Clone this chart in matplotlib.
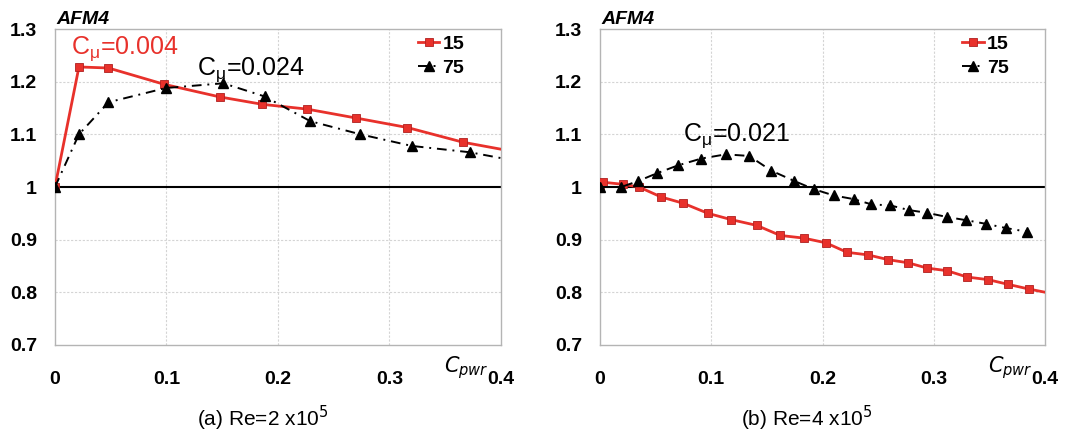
import matplotlib.pyplot as plt

plt.rcParams['font.family'] = ['Liberation Sans', 'DejaVu Sans']

# Panel (a): Re = 2x10^5
a_x15 = [0.0, 0.0215, 0.048, 0.098, 0.148, 0.186, 0.226, 0.270, 0.316, 0.366, 0.42]
a_y15 = [1.0, 1.228, 1.226, 1.195, 1.171, 1.157, 1.148, 1.131, 1.113, 1.085, 1.064]
a_x75 = [0.0, 0.0215, 0.048, 0.0995, 0.151, 0.188, 0.229, 0.274, 0.320, 0.372, 0.42]
a_y75 = [1.0, 1.100, 1.161, 1.188, 1.197, 1.172, 1.125, 1.100, 1.078, 1.066, 1.047]

# Panel (b): Re = 4x10^5
b_x15 = [0.0, 0.003, 0.021, 0.035, 0.055, 0.075, 0.097, 0.118, 0.141, 0.162, 0.183,
         0.203, 0.222, 0.241, 0.259, 0.277, 0.294, 0.312, 0.330, 0.349, 0.367, 0.386, 0.41]
b_y15 = [1.0, 1.009, 1.005, 1.0, 0.981, 0.969, 0.950, 0.938, 0.927, 0.908, 0.903,
         0.894, 0.876, 0.871, 0.862, 0.856, 0.846, 0.841, 0.829, 0.824, 0.815, 0.806, 0.796]
b_x75 = [0.0, 0.019, 0.034, 0.051, 0.070, 0.091, 0.113, 0.134, 0.154, 0.174, 0.192,
         0.210, 0.228, 0.244, 0.261, 0.278, 0.294, 0.312, 0.329, 0.347, 0.365, 0.384]
b_y75 = [1.0, 1.0, 1.011, 1.026, 1.041, 1.054, 1.062, 1.059, 1.031, 1.012, 0.996,
         0.984, 0.977, 0.967, 0.965, 0.956, 0.951, 0.943, 0.937, 0.930, 0.922, 0.915]

x_ticks = [0, 0.1, 0.2, 0.3, 0.4]
x_ticklabels = ['0', '0.1', '0.2', '0.3', '0.4']
y_ticks = [0.7, 0.8, 0.9, 1.0, 1.1, 1.2, 1.3]
y_ticklabels = ['0.7', '0.8', '0.9', '1', '1.1', '1.2', '1.3']

captions = ['(a) Re=2 x10$^5$', '(b) Re=4 x10$^5$']

red = '#e8312b'
grid_c = '#d4d4d4'
spine_c = '#b4b4b4'

fig = plt.figure(figsize=(10.78, 4.4), dpi=100)
ax_a = fig.add_axes([0.051, 0.216, 0.4137, 0.718])
ax_b = fig.add_axes([0.5566, 0.216, 0.4128, 0.718])


def style_axes(ax, caption):
    ax.set_xlim(0, 0.4)
    ax.set_ylim(0.7, 1.3)
    ax.set_xticks(x_ticks)
    ax.set_xticklabels(x_ticklabels, fontsize=14, fontweight='bold')
    ax.set_yticks(y_ticks)
    ax.set_yticklabels(y_ticklabels, fontsize=14, fontweight='bold')
    ax.tick_params(length=0)
    ax.tick_params(axis='x', pad=19)
    ax.tick_params(axis='y', pad=13)
    for s in ax.spines.values():
        s.set_color(spine_c)
        s.set_linewidth(1.0)
    for gx in x_ticks[1:-1]:
        ax.axvline(gx, color=grid_c, lw=0.8, ls=(0, (2, 1.5)), zorder=0)
    for gy in [0.8, 0.9, 1.1, 1.2]:
        ax.axhline(gy, color=grid_c, lw=0.8, ls=(0, (2, 1.5)), zorder=0)
    ax.axhline(1.0, color='black', lw=1.5, zorder=1)
    ax.text(0.003, 1.003, 'AFM4', transform=ax.transAxes, fontsize=14,
            fontweight='bold', style='italic', ha='left', va='bottom')
    ax.text(0.873, -0.03, '$\\mathit{C_{pwr}}$', transform=ax.transAxes,
            fontsize=15, ha='left', va='top')
    ax.text(0.465, -0.232, caption, transform=ax.transAxes, fontsize=15,
            ha='center', va='center')


def plot_series(ax, x15, y15, x75, y75):
    ax.plot(x15, y15, color=red, lw=2, marker='s', ms=6, mfc=red,
            mec='#b02020', mew=0.6, label='15', zorder=3)
    ax.plot(x75, y75, color='black', lw=1.4, ls=(0, (5, 3, 1, 3)), marker='^',
            ms=7, mfc='black', mec='black', label='75', zorder=4)
    leg = ax.legend(loc='upper left', bbox_to_anchor=(0.775, 1.035), frameon=False,
                    handlelength=1.1, handletextpad=0.15, labelspacing=0.3,
                    prop={'size': 14, 'weight': 'bold'})
    return leg


style_axes(ax_a, captions[0])
plot_series(ax_a, a_x15, a_y15, a_x75, a_y75)
ax_a.text(0.014, 1.236, 'C$_\\mathregular{\\mu}$=0.004', color=red, fontsize=18,
          ha='left', va='bottom')
ax_a.text(0.127, 1.196, 'C$_\\mathregular{\\mu}$=0.024', color='black', fontsize=18,
          ha='left', va='bottom')

style_axes(ax_b, captions[1])
plot_series(ax_b, b_x15, b_y15, b_x75, b_y75)
ax_b.text(0.075, 1.07, 'C$_\\mathregular{\\mu}$=0.021', color='black', fontsize=18,
          ha='left', va='bottom')

fig.savefig('out.png', dpi=100)
